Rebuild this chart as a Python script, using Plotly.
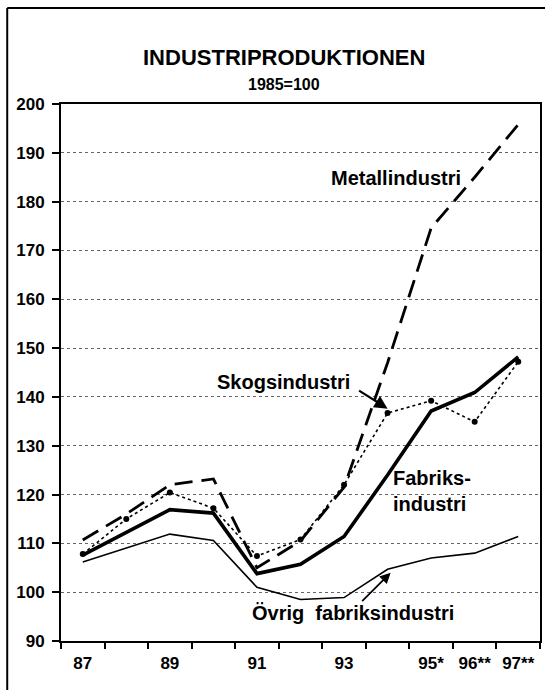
import plotly.graph_objects as go

years = ["87", "88", "89", "90", "91", "92", "93", "94", "95", "96", "97"]
tick_text = ["87", "", "89", "", "91", "", "93", "", "95*", "96**", "97**"]

metall = [110.7, 116.0, 122.0, 123.2, 105.0, 110.5, 121.5, 147.0, 174.6, 185.0, 195.8]
skogs = [107.8, 115.0, 120.4, 117.2, 107.4, 110.8, 122.0, 136.7, 139.2, 134.9, 147.2]
fabriks = [107.6, 112.2, 116.9, 116.2, 103.8, 105.7, 111.4, 124.0, 137.1, 140.9, 148.2]
ovrig = [106.2, 109.0, 111.9, 110.6, 101.0, 98.5, 98.9, 104.7, 107.0, 108.0, 111.4]

FONT = "Liberation Sans, Arial, Helvetica, sans-serif"

fig = go.Figure()
fig.add_trace(go.Scatter(x=years, y=ovrig, mode="lines",
                         line=dict(color="black", width=1.6), name="Övrig fabriksindustri"))
fig.add_trace(go.Scatter(x=years, y=fabriks, mode="lines",
                         line=dict(color="black", width=3.6), name="Fabriksindustri"))
fig.add_trace(go.Scatter(x=years, y=skogs, mode="lines+markers",
                         line=dict(color="black", width=1.6, dash="dot"),
                         marker=dict(color="black", size=6), name="Skogsindustri"))
fig.add_trace(go.Scatter(x=years, y=metall, mode="lines",
                         line=dict(color="black", width=2.8, dash="18px,9px"), name="Metallindustri"))

lab = dict(family=FONT, size=20, color="black")
ann = [
    dict(x=7.2, y=184.8, text="<b>Metallindustri</b>", showarrow=False, font=lab),
    dict(x=4.6, y=143.0, text="<b>Skogsindustri</b>", showarrow=False, font=lab),
    dict(x=8.03, y=120.8, text="<b>Fabriks-<br>industri</b>", showarrow=False, font=lab, align="left"),
    dict(x=6.2, y=95.7, text="<b>Övrig \u00a0fabriksindustri</b>", showarrow=False, font=lab),
    # arrows
    dict(x=7.0, y=137.6, ax=-30, ay=-19, text="", showarrow=True, arrowhead=2,
         arrowsize=1.2, arrowwidth=2.2, arrowcolor="black"),
    dict(x=7.07, y=104.0, ax=-30, ay=30, text="", showarrow=True, arrowhead=2,
         arrowsize=1.2, arrowwidth=1.8, arrowcolor="black"),
    # title
    dict(xref="paper", yref="paper", x=0.466, y=1.0 + (104 - 58) / 537, text="<b>INDUSTRIPRODUKTIONEN</b>",
         showarrow=False, font=dict(family=FONT, size=22, color="black"), yanchor="middle"),
    dict(xref="paper", yref="paper", x=0.466, y=1.0 + (104 - 85) / 537, text="<b>1985=100</b>",
         showarrow=False, font=dict(family=FONT, size=16, color="black"), yanchor="middle"),
]

fig.update_layout(
    width=545, height=690,
    margin=dict(l=61, r=3, t=104, b=49),
    paper_bgcolor="white", plot_bgcolor="white",
    showlegend=False,
    annotations=ann,
    shapes=[
        dict(type="line", xref="paper", yref="paper", x0=(7 - 61) / 481, x1=1.02,
             y0=1 + (104 - 8) / 537, y1=1 + (104 - 8) / 537, line=dict(color="black", width=2)),
        dict(type="line", xref="paper", yref="paper", x0=(7 - 61) / 481, x1=(7 - 61) / 481,
             y0=1 + (104 - 8) / 537, y1=-0.12, line=dict(color="black", width=2)),
    ],
)

fig.update_xaxes(
    type="category", range=[-0.5, 10.5],
    tickmode="array", tickvals=years, ticktext=tick_text, tickson="boundaries",
    ticks="outside", ticklen=6, tickwidth=1.5, tickcolor="black",
    showline=True, linewidth=2, linecolor="black", mirror=True,
    showgrid=False, zeroline=False,
    tickfont=dict(family=FONT, size=17, color="black", weight="bold"),
    ticklabelstandoff=6,
)
fig.update_yaxes(
    range=[90, 200], dtick=10, tick0=90,
    ticks="outside", ticklen=7, tickwidth=1.5, tickcolor="black",
    showline=True, linewidth=2, linecolor="black", mirror=True,
    showgrid=True, gridcolor="#666666", griddash="dot", gridwidth=1,
    zeroline=False,
    tickfont=dict(family=FONT, size=17, color="black", weight="bold"),
    ticklabelstandoff=4,
)

fig.write_html("out.html", config={"displayModeBar": False},
               post_script="document.body.style.margin='0';")
